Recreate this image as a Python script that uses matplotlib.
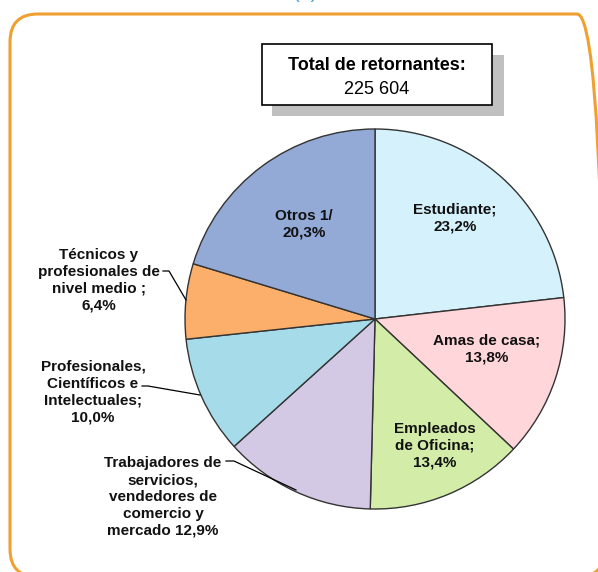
import numpy as np
import matplotlib.pyplot as plt
from matplotlib.patches import FancyBboxPatch, Rectangle

#######################################################
W, H = 598, 572   # canvas in pixels, dpi 100

Categories = ['Estudiante', 'Amas de casa', 'Empleados de Oficina',
              'Trabajadores de servicios, vendedores de comercio y mercado',
              'Profesionales, Cientificos e Intelectuales',
              'Tecnicos y profesionales de nivel medio', 'Otros 1/']
Shares = [23.2, 13.8, 13.4, 12.9, 10.0, 6.4, 20.3]
Labels = ['Estudiante;\n23,2%',
          'Amas de casa;\n13,8%',
          'Empleados\nde Oficina;\n13,4%',
          'Trabajadores de\nservicios,\nvendedores de\ncomercio y\nmercado 12,9%',
          'Profesionales,\nCientíficos e\nIntelectuales;\n10,0%',
          'Técnicos y\nprofesionales de\nnivel medio ;\n6,4%',
          'Otros 1/\n20,3%']
Colors = ['#D4F1FC', '#FFD6DA', '#D3EDA9', '#D3C9E4', '#A6DBEA', '#FBAF6B', '#93A9D6']

Total_Title = 'Total de retornantes:'
Total_Value = '225 604'
#######################################################

plt.rcParams['font.family'] = ['Liberation Sans Narrow', 'Liberation Sans', 'DejaVu Sans']

def Y(y):
    # pixel row (from top) -> data y
    return H - y

fig = plt.figure(figsize=(W / 100, H / 100), dpi=100)
ax = fig.add_axes([0, 0, 1, 1])

Center = (375, Y(319))
Radius = 190
ax.pie(Shares, colors=Colors, startangle=90, counterclock=False,
       center=Center, radius=Radius,
       wedgeprops=dict(edgecolor='#333333', linewidth=1.0))

# label positions (pixels) and leader lines for the outside ones
Label_Pos = [(455, 218), (487, 349), (435, 446), (163, 497), (93, 392), (99, 280), (304, 224)]
for lab, (x, y) in zip(Labels, Label_Pos):
    ax.text(x, Y(y), lab, ha='center', va='center', fontsize=11,
            fontweight='bold', linespacing=1.25, color='#111111')

Leaders = [[(226, 461), (234, 461), (296, 490)],
           [(142, 386), (148, 386), (200, 395)],
           [(163, 271), (169, 271), (186, 300)]]
for pts in Leaders:
    xs = [p[0] for p in pts]
    ys = [Y(p[1]) for p in pts]
    ax.plot(xs, ys, color='black', lw=0.9)

# orange rounded frame
frame = FancyBboxPatch((10, Y(577)), 595, 563,
                       boxstyle='round,pad=0,rounding_size=28',
                       fill=False, edgecolor='#F0A030', linewidth=2.2)
ax.add_patch(frame)

# total box with shadow
ax.add_patch(Rectangle((272, Y(116)), 232, 61, facecolor='#C0C0C0', edgecolor='none'))
ax.add_patch(Rectangle((262, Y(105)), 230, 61, facecolor='white', edgecolor='black', linewidth=1.2))
ax.text(377, Y(65), Total_Title, ha='center', va='center', fontsize=13, fontweight='bold')
ax.text(377, Y(89), Total_Value, ha='center', va='center', fontsize=13)

# cut-off figure number above
ax.text(306, Y(-7), '(4)', ha='center', va='center', fontsize=15, color='#4BA3D9')

ax.set_xlim(0, W)
ax.set_ylim(0, H)
ax.set_aspect('equal')
ax.axis('off')

plt.savefig('out.png', dpi=100)
